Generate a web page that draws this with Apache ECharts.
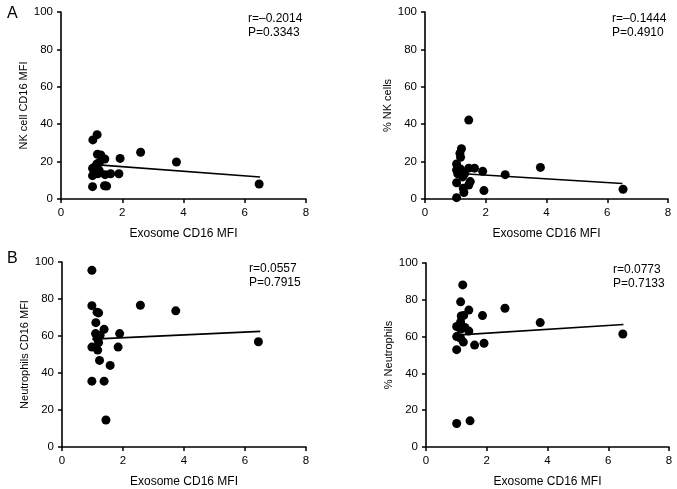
<!DOCTYPE html>
<html>
<head>
<meta charset="utf-8">
<script src="https://cdn.jsdelivr.net/npm/echarts@6/dist/echarts.min.js"></script>
<style>
  html, body { margin: 0; padding: 0; background: #ffffff; }
  #chart { width: 677px; height: 489px; }
</style>
</head>
<body>
<div id="chart"></div>
<script>
// exosome CD16 MFI vs NK / neutrophil CD16 readouts
var nkMfiPts = [
  [1.04, 31.6], [1.18, 34.4], [1.19, 23.9], [1.30, 23.5], [1.43, 21.4], [1.93, 21.7],
  [2.60, 25.0], [3.77, 19.8], [6.47, 8.0], [1.03, 16.4], [1.17, 18.7], [1.25, 19.4],
  [1.15, 17.3], [1.25, 15.1], [1.03, 12.5], [1.44, 13.0], [1.62, 13.5], [1.89, 13.5],
  [1.03, 6.6], [1.42, 7.1], [1.49, 6.9], [1.10, 16.0], [1.20, 13.5]
];
var nkPctPts = [
  [1.44, 42.2], [1.20, 26.9], [1.15, 24.4], [1.17, 22.3], [1.04, 18.7], [1.04, 15.5],
  [1.17, 16.0], [1.44, 16.5], [1.63, 16.5], [1.90, 14.8], [2.64, 13.0], [3.80, 16.9],
  [6.52, 5.2], [1.94, 4.5], [1.04, 8.7], [1.24, 11.8], [1.49, 9.3], [1.44, 7.5],
  [1.26, 5.8], [1.28, 3.5], [1.04, 0.7], [1.30, 13.4], [1.08, 13.4]
];
var neuMfiPts = [
  [0.98, 95.5], [0.98, 76.4], [1.15, 72.9], [1.20, 72.5], [1.11, 67.2], [1.38, 63.6],
  [1.10, 61.3], [1.25, 60.4], [1.89, 61.3], [2.57, 76.6], [3.73, 73.6], [6.44, 56.9],
  [0.98, 54.0], [1.20, 56.5], [1.17, 52.4], [1.84, 54.0], [1.23, 46.8], [1.58, 44.1],
  [0.98, 35.6], [1.38, 35.6], [1.44, 14.6], [1.15, 58.8]
];
var neuPctPts = [
  [1.21, 88.1], [1.14, 78.9], [1.41, 74.4], [1.16, 71.2], [1.24, 71.5], [1.86, 71.4],
  [2.60, 75.4], [3.76, 67.6], [6.48, 61.4], [1.14, 68.0], [1.01, 65.5], [1.14, 64.0],
  [1.28, 65.0], [1.41, 63.0], [1.01, 60.0], [1.14, 59.0], [1.23, 57.0], [1.60, 55.4],
  [1.91, 56.4], [1.01, 52.9], [1.01, 12.8], [1.45, 14.2]
];
// fitted lines (end points)
var nkMfiFit = [[1.0, 18.5], [6.5, 11.8]];
var nkPctFit = [[1.0, 13.8], [6.5, 8.3]];
var neuMfiFit = [[1.0, 58.3], [6.5, 62.5]];
var neuPctFit = [[1.0, 60.8], [6.5, 66.6]];

var yTitles = ['NK cell CD16 MFI', '% NK cells', 'Neutrophils CD16 MFI', '% Neutrophils'];
var statR = ['r=\u20130.2014', 'r=\u20130.1444', 'r=0.0557', 'r=0.0773'];
var statP = ['P=0.3343', 'P=0.4910', 'P=0.7915', 'P=0.7133'];
var xTitle = 'Exosome CD16 MFI';

var font = 'Liberation Sans, Arial, sans-serif';
var grids = [
  { left: 61, top: 12, width: 245, height: 187 },
  { left: 425, top: 12, width: 243, height: 187 },
  { left: 62, top: 262, width: 244, height: 188 },
  { left: 426, top: 263, width: 243, height: 187 }
];
var pts = [nkMfiPts, nkPctPts, neuMfiPts, neuPctPts];
var fits = [nkMfiFit, nkPctFit, neuMfiFit, neuPctFit];

var axisLine = { lineStyle: { color: '#000', width: 1.6 } };
var axisTick = { inside: false, length: 4, lineStyle: { color: '#000', width: 1.5 } };
var axisLabel = { color: '#000', fontSize: 11.5, fontFamily: font, margin: 8 };

var xAxes = [], yAxes = [], series = [], graphics = [];
grids.forEach(function (g, i) {
  xAxes.push({
    gridIndex: i, type: 'value', min: 0, max: 8, interval: 2,
    name: xTitle, nameLocation: 'middle', nameGap: 29,
    nameTextStyle: { color: '#000', fontSize: 12, fontFamily: font },
    axisLine: axisLine, axisTick: axisTick, axisLabel: axisLabel, splitLine: { show: false }
  });
  yAxes.push({
    gridIndex: i, type: 'value', min: 0, max: 100, interval: 20,
    name: yTitles[i], nameLocation: 'middle', nameGap: 31,
    nameTextStyle: { color: '#000', fontSize: 11, fontFamily: font },
    axisLine: axisLine, axisTick: axisTick, axisLabel: axisLabel, splitLine: { show: false }
  });
  series.push({
    type: 'scatter', xAxisIndex: i, yAxisIndex: i, data: pts[i],
    symbolSize: 9, itemStyle: { color: '#000', opacity: 1 }, silent: true
  });
  series.push({
    type: 'line', xAxisIndex: i, yAxisIndex: i, data: fits[i],
    symbol: 'none', lineStyle: { color: '#000', width: 1.6 }, silent: true
  });
  graphics.push({
    type: 'text', left: g.left + 187, top: g.top + 0,
    style: { text: statR[i] + '\n' + statP[i], fill: '#000', font: '12px ' + font, lineHeight: 14 }
  });
});
graphics.push({ type: 'text', left: 7, top: 6, style: { text: 'A', fill: '#000', font: '16px ' + font } });
graphics.push({ type: 'text', left: 7, top: 251, style: { text: 'B', fill: '#000', font: '16px ' + font } });

var myChart = echarts.init(document.getElementById('chart'));
myChart.setOption({
  animation: false,
  backgroundColor: '#fff',
  grid: grids,
  xAxis: xAxes,
  yAxis: yAxes,
  series: series,
  graphic: graphics
});
</script>
</body>
</html>
